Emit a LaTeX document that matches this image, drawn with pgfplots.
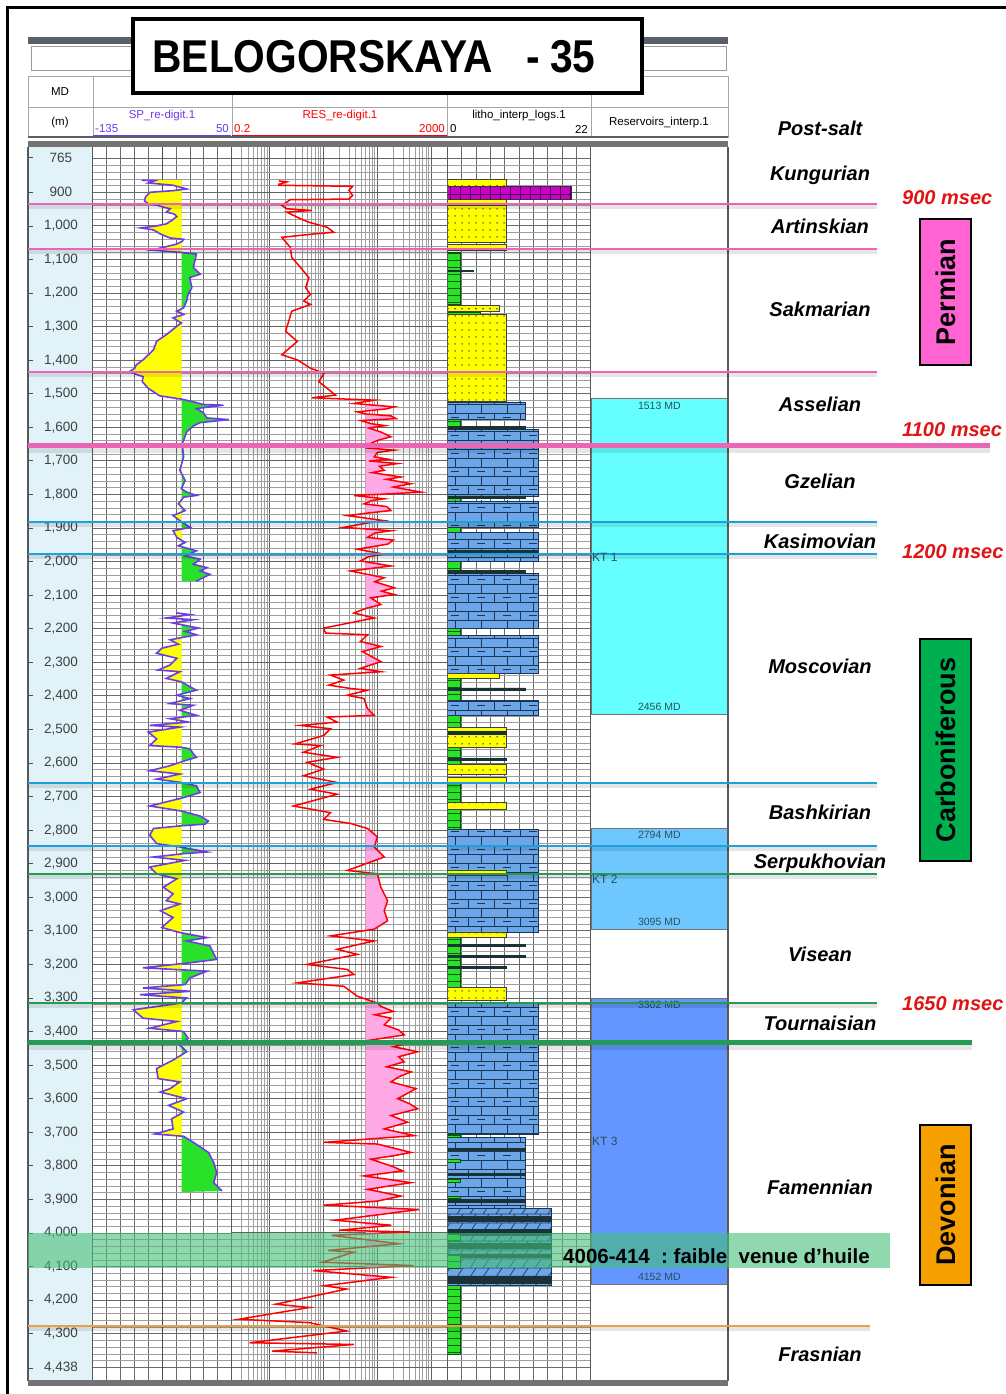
\documentclass[border=0pt]{standalone}
\usepackage{fontspec}
\setmainfont{Liberation Sans}
\usepackage{pgfplots}
\usepackage{pgfplotstable}
\pgfplotsset{compat=1.18}
\usetikzlibrary{patterns,patterns.meta}

\definecolor{sandy}{RGB}{255,255,0}
\definecolor{limeblue}{RGB}{108,166,232}
\definecolor{limeedge}{RGB}{25,55,85}
\definecolor{shalegreen}{RGB}{40,225,40}
\definecolor{saltmag}{RGB}{204,0,204}
\definecolor{darkbar}{RGB}{25,50,55}
\definecolor{cyanres}{RGB}{102,255,255}
\definecolor{skyres}{RGB}{110,200,255}
\definecolor{blueres}{RGB}{100,150,255}
\definecolor{pinkline}{RGB}{236,100,180}
\definecolor{blueline}{RGB}{30,160,220}
\definecolor{greenline}{RGB}{35,155,85}
\definecolor{orangeline}{RGB}{230,160,70}
\definecolor{permian}{RGB}{255,100,210}
\definecolor{carbon}{RGB}{0,176,80}
\definecolor{devon}{RGB}{245,160,0}
\definecolor{msecred}{RGB}{225,20,20}
\definecolor{oilgreen}{RGB}{70,190,120}
\definecolor{respink}{RGB}{255,170,230}
\definecolor{spviolet}{RGB}{110,60,230}
\definecolor{depthbg}{RGB}{225,243,248}
\definecolor{hdrdark}{RGB}{90,96,106}
\definecolor{reslbl}{RGB}{40,80,90}

\pgfdeclarepatternformonly{limebricks}{\pgfqpoint{-1pt}{-1pt}}{\pgfqpoint{27pt}{19pt}}{\pgfqpoint{26pt}{18pt}}{%
  \pgfsetlinewidth{0.7pt}%
  \pgfpathmoveto{\pgfqpoint{0pt}{0pt}}\pgfpathlineto{\pgfqpoint{26pt}{0pt}}%
  \pgfpathmoveto{\pgfqpoint{0pt}{9pt}}\pgfpathlineto{\pgfqpoint{26pt}{9pt}}%
  \pgfpathmoveto{\pgfqpoint{0pt}{0pt}}\pgfpathlineto{\pgfqpoint{0pt}{9pt}}%
  \pgfpathmoveto{\pgfqpoint{13pt}{9pt}}\pgfpathlineto{\pgfqpoint{13pt}{18pt}}%
  \pgfpathmoveto{\pgfqpoint{9pt}{4.5pt}}\pgfpathlineto{\pgfqpoint{17pt}{4.5pt}}%
  \pgfusepath{stroke}}
\pgfdeclarepatternformonly{dolobricks}{\pgfqpoint{-1pt}{-1pt}}{\pgfqpoint{27pt}{10pt}}{\pgfqpoint{26pt}{9pt}}{%
  \pgfsetlinewidth{0.7pt}%
  \pgfpathmoveto{\pgfqpoint{0pt}{0pt}}\pgfpathlineto{\pgfqpoint{26pt}{0pt}}%
  \pgfpathmoveto{\pgfqpoint{2pt}{0pt}}\pgfpathlineto{\pgfqpoint{8pt}{9pt}}%
  \pgfpathmoveto{\pgfqpoint{15pt}{0pt}}\pgfpathlineto{\pgfqpoint{21pt}{9pt}}%
  \pgfusepath{stroke}}

\pgfplotsset{
  trk/.style={scale only axis, anchor=north west, height=1233pt, ymin=765, ymax=4438, y dir=reverse,
    xticklabels={}, yticklabels={}, major tick length=0pt, minor tick length=0pt, axis line style={draw=none}},
  gridy/.style={ytick={800,900,...,4400}, minor y tick num=4, grid=both,
    major grid style={black!58, line width=0.9pt}, minor grid style={black!38, line width=0.65pt}},
  lsand/.style={fill=sandy, draw=black!75, line width=0.5pt, postaction={pattern={Dots[distance=6.5pt,radius=0.85pt]}, pattern color=black!75}},
  llime/.style={fill=limeblue, draw=limeedge, line width=0.6pt, postaction={pattern=limebricks, pattern color=limeedge}},
  ldolo/.style={fill=limeblue, draw=limeedge, line width=0.6pt, postaction={pattern=dolobricks, pattern color=limeedge}},
  lshale/.style={fill=shalegreen, draw=green!35!black, line width=0.5pt, postaction={pattern={Lines[angle=0,distance=7pt,line width=0.6pt]}, pattern color=green!35!black}},
  lsalt/.style={fill=saltmag, draw=black!80, line width=0.6pt, postaction={pattern={Hatch[angle=0,distance=10pt,line width=0.6pt]}, pattern color=black!70!magenta}},
  ldbar/.style={fill=darkbar, draw=darkbar, line width=0.4pt},
}
\newcommand{\lrect}[4]{\addplot[#1] coordinates {(0,#3) (#2,#3) (#2,#4) (0,#4) (0,#3)};}
\newcommand{\stratfont}{\bfseries\itshape\fontsize{20}{22}\selectfont}
\newcommand{\msecfont}{\bfseries\itshape\fontsize{20}{22}\selectfont}

% SP log, upper run (value, measured depth)
\pgfplotstableread{
v d
-70 864
-52 865
-61 872
-28 879
-10 890
-28 895
-59 900
-65 915
-66 926
-61 934
-50 938
-41 944
-32 949
-37 959
-27 964
-23 972
-30 984
-37 994
-50 1000
-71 1006
-54 1012
-45 1024
-32 1036
-14 1040
-16 1046
-23 1054
-41 1064
-57 1072
-17 1079
3 1084
1 1104
-1 1124
8 1144
-6 1154
-3 1184
-8 1204
-10 1224
-14 1244
-23 1254
-14 1264
-28 1274
-17 1289
-23 1299
-37 1324
-50 1344
-54 1369
-61 1384
-68 1399
-77 1414
-79 1424
-86 1434
-75 1444
-68 1449
-69 1464
-61 1484
-46 1506
-23 1514
-17 1516
-1 1524
12 1532
39 1534
3 1544
12 1556
17 1572
46 1577
8 1586
-1 1596
-10 1614
-14 1639
-16 1648
-14 1688
-19 1728
-12 1758
-17 1783
-10 1793
3 1803
-14 1808
-21 1828
-12 1848
-28 1863
-19 1878
-5 1898
-28 1908
-23 1928
-12 1943
-21 1953
3 1968
-12 1983
8 1993
-1 2008
17 2018
8 2028
21 2038
12 2048
3 2058
}\spA

% SP log, lower run
\pgfplotstableread{
v d
-23 2153
-5.5 2158
-37 2168
-1 2173
-28 2183
-5.5 2193
5.6 2198
-12 2208
3 2218
-32 2233
-21 2246
-43 2258
-50 2273
-23 2288
-32 2308
-48 2323
-19 2328
-37 2348
-17 2358
-5.5 2373
3 2383
-23 2398
-5.5 2408
-32 2423
-1 2428
-19 2443
3 2458
-32 2468
-8 2478
-59 2488
-19 2493
-61 2508
-50 2528
-59 2548
-17 2553
-5.5 2558
-1 2573
3 2583
-12 2593
-32 2608
-59 2623
-19 2633
-50 2648
-17 2658
3 2668
8 2688
-14 2703
-59 2728
-17 2743
8 2758
19 2773
14.5 2782
-17 2787
-54 2795
-59 2815
-50 2840
-19 2850
17 2865
-14 2870
-54 2880
-12 2890
-59 2910
-50 2930
-23 2945
-41 2970
-28 2990
-37 3010
-19 3020
-45 3040
-28 3060
-43 3090
-19 3105
17 3120
-10 3130
21 3145
30 3185
-5.5 3195
-68 3210
17 3220
-5.5 3240
-12 3260
-68 3270
-5.5 3280
-72 3290
-10 3300
-17 3315
-81 3335
-68 3360
-23 3370
-59 3390
-14 3400
-8 3420
-19 3440
-10 3460
-28 3485
-50 3510
-48 3540
-19 3550
-32 3570
-45 3580
-10 3600
-34 3620
-14 3640
-30 3660
-28 3690
-52 3705
-14 3712
-1 3730
19 3760
26 3790
30 3820
26 3850
37 3875
}\spB

% Resistivity log (ohm.m, measured depth)
\pgfplotstableread{
v d
1.5 866
2.1 869
1.5 876
1.5 879
35 882
30 894
35 909
30 920
2.45 922
1.7 939
2.1 949
6.2 954
2.1 959
3.8 979
5.4 989
11.8 1004
15.7 1019
6.7 1024
1.7 1034
2.45 1064
2.6 1094
3.8 1124
5.4 1154
4.7 1184
5.8 1204
4.35 1224
5.8 1234
2.6 1254
2.0 1314
3.3 1344
2.0 1374
1.7 1384
3.3 1399
5.8 1424
10.3 1439
8.3 1464
11.8 1484
16.9 1504
6.2 1512
88 1519
37 1529
207 1539
150 1545
43 1554
60 1560
180 1566
223 1574
50 1580
76 1589
140 1595
70 1602
117 1614
180 1628
101 1639
76 1648
150 1655
60 1661
207 1668
100 1675
88 1688
160 1695
70 1700
239 1708
110 1716
135 1728
80 1735
275 1748
150 1755
424 1768
200 1778
651 1793
180 1798
37 1803
135 1813
80 1818
57 1828
150 1836
180 1848
70 1855
28 1863
135 1878
60 1886
24 1898
180 1908
90 1915
66 1928
200 1936
156 1948
43 1963
135 1978
70 1985
49 1998
180 2013
80 2020
32 2028
135 2048
90 2060
207 2078
120 2088
207 2098
76 2108
117 2128
60 2140
37 2153
88 2168
10.2 2198
11 2213
66 2218
49 2238
117 2253
53 2268
117 2298
49 2318
117 2328
13.6 2338
24 2353
12.7 2368
32 2378
66 2383
28 2398
57 2408
66 2438
88 2458
11.8 2463
18 2478
3.8 2488
13.6 2498
10.2 2518
3.0 2543
8.9 2548
4.3 2568
18 2583
5 2598
10.2 2618
4.3 2638
18 2658
5.8 2678
18 2693
2.8 2728
13.6 2748
10.2 2768
32 2780
66 2795
101 2820
88 2850
135 2880
28 2920
101 2930
117 2970
156 3010
135 3040
156 3070
88 3095
13.6 3115
88 3130
18 3155
43 3170
5 3200
28 3215
37 3230
3.3 3255
24 3265
43 3295
101 3315
117 3325
200 3340
90 3350
180 3360
135 3380
250 3395
318 3410
49 3430
367 3435
200 3445
564 3460
250 3475
318 3490
150 3505
424 3520
250 3535
180 3550
525 3570
239 3600
400 3615
564 3630
180 3650
367 3670
135 3690
489 3710
10.2 3730
101 3735
424 3760
200 3770
76 3780
180 3800
300 3815
57 3830
424 3850
66 3870
275 3890
100 3905
10.4 3917
598 3930
16.8 3962
183 3977
19.7 3992
405 3997
14.3 4007
251 4032
12.2 4052
37 4057
9.6 4087
474 4097
6.5 4112
183 4132
10.4 4157
27 4167
1.32 4212
5.5 4222
0.27 4257
5.5 4267
27 4292
0.43 4327
37 4332
1.12 4352
7.6 4357
}\res

\begin{document}
\begin{tikzpicture}
\useasboundingbox (0pt,0pt) rectangle (1006pt,-1394pt);
\fill[white] (0pt,0pt) rectangle (1006pt,-1394pt);
% outer frame
\draw[line width=3pt] (7pt,-1394pt) -- (7pt,-8pt) -- (1006pt,-8pt);
% header
\fill[hdrdark] (28pt,-37pt) rectangle (728pt,-44pt);
\draw[black!40, fill=white] (31pt,-46pt) rectangle (726pt,-70pt);
\draw[black!35] (28pt,-76pt) rectangle (728pt,-137pt);
\draw[black!35] (28pt,-107pt) -- (728pt,-107pt);
\foreach \x in {92.7,231.7,447.3,590.7} \draw[black!35] (\x pt,-76pt) -- (\x pt,-137pt);
\draw[hdrdark, line width=2pt] (28pt,-137pt) -- (728pt,-137pt);
\fill[black!55] (28pt,-141pt) rectangle (728pt,-147pt);
\begin{scope}[font=\fontsize{11.5}{12}\selectfont]
\node at (60pt,-92pt) {MD};
\node at (60pt,-123pt) {(m)};
\node[text=spviolet] at (162pt,-116pt) {SP\_re-digit.1};
\node[text=spviolet, anchor=west, inner sep=1pt] at (94pt,-129pt) {-135};
\node[text=spviolet, anchor=east, inner sep=1pt] at (230pt,-129pt) {50};
\node[text=red] at (340pt,-116pt) {RES\_re-digit.1};
\node[text=red, anchor=west, inner sep=1pt] at (233pt,-129pt) {0.2};
\node[text=red, anchor=east, inner sep=1pt] at (446pt,-129pt) {2000};
\node at (519pt,-116pt) {litho\_interp\_logs.1};
\node[anchor=west, inner sep=1pt] at (449pt,-129pt) {0};
\node[anchor=east, inner sep=1pt] at (589pt,-129pt) {22};
\node at (659pt,-123pt) {Reservoirs\_interp.1};
\end{scope}
\draw[spviolet] (93pt,-135pt) -- (231pt,-135pt);
\draw[red] (232pt,-135pt) -- (447pt,-135pt);

% depth track
\begin{axis}[scale only axis, anchor=north west, at={(28pt,-147pt)}, width=64.7pt, height=1233pt,
  ymin=765, ymax=4438, y dir=reverse, xmin=0, xmax=1, xtick=\empty,
  ytick={797,900,1000,1100,1200,1300,1400,1500,1600,1700,1800,1900,2000,2100,2200,2300,2400,2500,2600,2700,2800,2900,3000,3100,3200,3300,3400,3500,3600,3700,3800,3900,4000,4100,4200,4300,4402},
  yticklabels={765,900,{1,000},{1,100},{1,200},{1,300},{1,400},{1,500},{1,600},{1,700},{1,800},{1,900},{2,000},{2,100},{2,200},{2,300},{2,400},{2,500},{2,600},{2,700},{2,800},{2,900},{3,000},{3,100},{3,200},{3,300},{3,400},{3,500},{3,600},{3,700},{3,800},{3,900},{4,000},{4,100},{4,200},{4,300},{4,438}},
  ytick pos=left, tick align=inside, major tick length=5pt, tick style={black!70, line width=0.8pt},
  axis line style={draw=none},
  yticklabel style={anchor=center, xshift=33pt, font=\fontsize{13.5}{14}\selectfont, text=black!75},
  axis background/.style={fill=depthbg}]
\end{axis}

% SP track grid
\begin{axis}[trk, gridy, at={(92.7pt,-147pt)}, width=139pt, xmin=-135, xmax=50,
  xtick={-116.5,-98,-79.5,-61,-24,-5.5,13,31.5},
  extra x ticks={-42.5}, extra x tick labels={}, extra x tick style={grid=major, major grid style={black!70, line width=1pt}}]
\end{axis}
% SP fill, left of base line
\begin{axis}[trk, at={(92.7pt,-147pt)}, width=89pt, xmin=-135, xmax=-16.5, hide axis]
\addplot[fill=sandy, draw=none] table[x=v,y=d] {\spA} -- (axis cs:-16.5,2058) -- (axis cs:-16.5,864) -- cycle;
\addplot[fill=sandy, draw=none] table[x=v,y=d] {\spB} -- (axis cs:-16.5,3878) -- (axis cs:-16.5,2153) -- cycle;
\end{axis}
% SP fill, right of base line
\begin{axis}[trk, at={(181.7pt,-147pt)}, width=50pt, xmin=-16.5, xmax=50, hide axis]
\addplot[fill=shalegreen, draw=none] table[x=v,y=d] {\spA} -- (axis cs:-16.5,2058) -- (axis cs:-16.5,864) -- cycle;
\addplot[fill=shalegreen, draw=none] table[x=v,y=d] {\spB} -- (axis cs:-16.5,3878) -- (axis cs:-16.5,2153) -- cycle;
\end{axis}
% SP curve
\begin{axis}[trk, at={(92.7pt,-147pt)}, width=139pt, xmin=-135, xmax=50, hide axis]
\addplot[spviolet, line width=1.6pt] table[x=v,y=d] {\spA};
\addplot[spviolet, line width=1.6pt] table[x=v,y=d] {\spB};
\end{axis}

% RES grid
\begin{axis}[trk, gridy, at={(231.7pt,-147pt)}, width=215.6pt, xmode=log, xmin=0.2, xmax=2000,
  xtick={1,10,100,1000},
  minor xtick={0.3,0.4,0.5,0.6,0.7,0.8,0.9,2,3,4,5,6,7,8,9,20,30,40,50,60,70,80,90,200,300,400,500,600,700,800,900},
  major grid style={black!62, line width=1pt}]
\end{axis}
% RES fill above 61 ohm.m
\begin{axis}[trk, at={(365.6pt,-147pt)}, width=81.7pt, xmode=log, xmin=61, xmax=2000, hide axis]
\addplot[fill=respink, draw=none] table[x=v,y=d] {\res} -- (axis cs:61,4357) -- (axis cs:61,866) -- cycle;
\end{axis}
% RES curve
\begin{axis}[trk, at={(231.7pt,-147pt)}, width=215.6pt, xmode=log, xmin=0.2, xmax=2000, hide axis]
\addplot[red, line width=1.5pt] table[x=v,y=d] {\res};
\end{axis}

% Lithology track
\begin{axis}[trk, gridy, at={(447.3pt,-147pt)}, width=143.4pt, xmin=0, xmax=22,
  xtick={2.2,4.4,6.6,8.8,11,13.2,15.4,17.6,19.8}]
\lrect{lshale}{2}{1079}{1234}
\lrect{lshale}{5}{1256}{1262}
\lrect{lshale}{2}{1576}{1600}
\lrect{lshale}{2}{1804}{1819}
\lrect{lshale}{2}{1899}{1914}
\lrect{lshale}{2}{1999}{2034}
\lrect{lshale}{2}{2199}{2219}
\lrect{lshale}{2}{2348}{2413}
\lrect{lshale}{2}{2458}{2493}
\lrect{lshale}{2}{2553}{2603}
\lrect{lshale}{2}{2658}{2718}
\lrect{lshale}{2}{2738}{2798}
\lrect{lshale}{2}{3118}{3268}
\lrect{lshale}{2}{4156}{4361}
\lrect{llime}{12}{1524}{1576}
\lrect{llime}{14}{1606}{1804}
\lrect{llime}{14}{1819}{1899}
\lrect{llime}{14}{1914}{1999}
\lrect{llime}{14}{2034}{2199}
\lrect{llime}{14}{2219}{2334}
\lrect{llime}{14}{2413}{2458}
\lrect{llime}{14}{2798}{3103}
\lrect{llime}{14}{3313}{3706}
\lrect{llime}{12}{3716}{3926}
\lrect{lshale}{2}{3706}{3716}
\lrect{lshale}{2}{3780}{3790}
\lrect{lshale}{2}{3840}{3850}
\lrect{lshale}{2}{3890}{3900}
\lrect{lsand}{9}{862}{882}
\lrect{lsand}{9}{922}{937}
\lrect{lsand}{9}{939}{1049}
\lrect{lsand}{9}{1054}{1072}
\lrect{lsand}{8}{1236}{1254}
\lrect{lsand}{9}{1264}{1522}
\lrect{lsand}{8}{2334}{2348}
\lrect{lsand}{9}{2493}{2508}
\lrect{lsand}{9}{2513}{2553}
\lrect{lsand}{9}{2603}{2633}
\lrect{lsand}{9}{2643}{2658}
\lrect{lsand}{9}{2718}{2738}
\lrect{lsand}{9}{2918}{2933}
\lrect{lsand}{9}{3103}{3118}
\lrect{lsand}{9}{3268}{3308}
\lrect{lsalt}{19}{882}{922}
\lrect{ldolo}{16}{3926}{4156}
\lrect{ldbar}{4}{1132}{1136}
\lrect{ldbar}{12}{1598}{1606}
\lrect{ldbar}{12}{1804}{1811}
\lrect{ldbar}{14}{1966}{1974}
\lrect{ldbar}{12}{2026}{2034}
\lrect{ldbar}{12}{2376}{2382}
\lrect{ldbar}{9}{2506}{2513}
\lrect{ldbar}{9}{2586}{2593}
\lrect{ldbar}{12}{3140}{3146}
\lrect{ldbar}{12}{3172}{3178}
\lrect{ldbar}{9}{3206}{3212}
\lrect{ldbar}{12}{3748}{3754}
\lrect{ldbar}{12}{3822}{3828}
\lrect{ldbar}{12}{3900}{3908}
\lrect{ldbar}{16}{3950}{3966}
\lrect{ldbar}{16}{3990}{4006}
\lrect{ldbar}{16}{4030}{4044}
\lrect{ldbar}{16}{4062}{4072}
\lrect{ldbar}{16}{4128}{4150}
\lrect{lshale}{2}{4005}{4025}
\lrect{lshale}{2}{4065}{4105}
\end{axis}

% Reservoir track
\begin{axis}[trk, at={(590.7pt,-147pt)}, width=137.3pt, xmin=0, xmax=1, hide axis]
\addplot[fill=cyanres, draw=black!55] coordinates {(0,1513) (1,1513) (1,2456) (0,2456) (0,1513)};
\addplot[fill=skyres, draw=black!55] coordinates {(0,2794) (1,2794) (1,3095) (0,3095) (0,2794)};
\addplot[fill=blueres, draw=black!55] coordinates {(0,3302) (1,3302) (1,4152) (0,4152) (0,3302)};
\begin{scope}[font=\fontsize{10.5}{11}\selectfont, text=reslbl]
\node at (axis cs:0.5,1537) {1513 MD};
\node at (axis cs:0.5,2433) {2456 MD};
\node at (axis cs:0.5,2815) {2794 MD};
\node at (axis cs:0.5,3074) {3095 MD};
\node at (axis cs:0.5,3321) {3302 MD};
\node at (axis cs:0.5,4131) {4152 MD};
\end{scope}
\end{axis}

% track borders
\foreach \x in {28,92.7,231.7,447.3,590.7,728}
  \draw[black!65, line width=1.2pt] (\x pt,-147pt) -- (\x pt,-1381pt);
\fill[black!55] (28pt,-1380pt) rectangle (728pt,-1386pt);

% overlay: horizons, oil band, labels
\begin{axis}[scale only axis, anchor=north west, at={(0pt,-147pt)}, width=1006pt, height=1233pt,
  xmin=0, xmax=1006, ymin=765, ymax=4438, y dir=reverse, hide axis, clip=false]
\addplot[draw=black, draw opacity=0.10, line width=4pt, yshift=-3pt] coordinates {(28,934) (877,934)};
\addplot[draw=black, draw opacity=0.10, line width=4pt, yshift=-3pt] coordinates {(28,1068) (877,1068)};
\addplot[draw=black, draw opacity=0.10, line width=4pt, yshift=-3pt] coordinates {(28,1436) (877,1436)};
\addplot[draw=black, draw opacity=0.10, line width=7pt, yshift=-4pt] coordinates {(28,1653) (990,1653)};
\addplot[draw=black, draw opacity=0.10, line width=4pt, yshift=-3pt] coordinates {(28,1881) (877,1881)};
\addplot[draw=black, draw opacity=0.10, line width=4pt, yshift=-3pt] coordinates {(28,1976) (877,1976)};
\addplot[draw=black, draw opacity=0.10, line width=4pt, yshift=-3pt] coordinates {(28,2659) (877,2659)};
\addplot[draw=black, draw opacity=0.10, line width=4pt, yshift=-3pt] coordinates {(28,2846) (877,2846)};
\addplot[draw=black, draw opacity=0.10, line width=4pt, yshift=-3pt] coordinates {(28,2932) (877,2932)};
\addplot[draw=black, draw opacity=0.10, line width=4pt, yshift=-3pt] coordinates {(28,3315) (877,3315)};
\addplot[draw=black, draw opacity=0.10, line width=7pt, yshift=-4pt] coordinates {(28,3434) (972,3434)};
\addplot[draw=black, draw opacity=0.10, line width=4pt, yshift=-3pt] coordinates {(28,4277) (870,4277)};
\addplot[pinkline, line width=2pt] coordinates {(28,934) (877,934)};
\addplot[pinkline, line width=2pt] coordinates {(28,1068) (877,1068)};
\addplot[pinkline, line width=2pt] coordinates {(28,1436) (877,1436)};
\addplot[pinkline, line width=5pt] coordinates {(28,1653) (990,1653)};
\addplot[blueline, line width=2pt] coordinates {(28,1881) (877,1881)};
\addplot[blueline, line width=2pt] coordinates {(28,1976) (877,1976)};
\addplot[blueline, line width=2pt] coordinates {(28,2659) (877,2659)};
\addplot[blueline, line width=2pt] coordinates {(28,2846) (877,2846)};
\addplot[greenline, line width=2pt] coordinates {(28,2932) (877,2932)};
\addplot[greenline, line width=2pt] coordinates {(28,3315) (877,3315)};
\addplot[greenline, line width=5pt] coordinates {(28,3434) (972,3434)};
\addplot[orangeline, line width=2pt] coordinates {(28,4277) (870,4277)};
\addplot[draw=none, fill=oilgreen, fill opacity=0.6] coordinates {(28,4000) (890,4000) (890,4105) (28,4105)};
\begin{scope}[font=\stratfont]
\node at (axis cs:820,708) {Post-salt};
\node at (axis cs:820,848) {Kungurian};
\node at (axis cs:820,1000) {Artinskian};
\node at (axis cs:820,1250) {Sakmarian};
\node at (axis cs:820,1531) {Asselian};
\node at (axis cs:820,1760) {Gzelian};
\node at (axis cs:820,1939) {Kasimovian};
\node at (axis cs:820,2311) {Moscovian};
\node at (axis cs:820,2746) {Bashkirian};
\node at (axis cs:820,2898) {Serpukhovian};
\node at (axis cs:820,3169) {Visean};
\node at (axis cs:820,3375) {Tournaisian};
\node at (axis cs:820,3863) {Famennian};
\node at (axis cs:820,4361) {Frasnian};
\end{scope}
\begin{scope}[font=\msecfont, text=msecred]
\node[anchor=west, inner sep=0pt] at (axis cs:902,917) {900 msec};
\node[anchor=west, inner sep=0pt] at (axis cs:902,1608) {1100 msec};
\node[anchor=west, inner sep=0pt] at (axis cs:902,1971) {1200 msec};
\node[anchor=west, inner sep=0pt] at (axis cs:902,3318) {1650 msec};
\end{scope}
\begin{scope}[font=\fontsize{12}{12}\selectfont, text=reslbl]
\node[anchor=west, inner sep=0pt] at (axis cs:592,1986) {KT 1};
\node[anchor=west, inner sep=0pt] at (axis cs:592,2945) {KT 2};
\node[anchor=west, inner sep=0pt] at (axis cs:592,3726) {KT 3};
\end{scope}
\end{axis}

% oil show annotation
\node[anchor=west, inner sep=0pt, font=\bfseries\fontsize{20.5}{22}\selectfont] at (563pt,-1256pt) {4006-414\ \ :\ faible\ \ venue\ d’huile};

% period boxes
\draw[fill=permian, line width=2pt] (920pt,-219pt) rectangle (971pt,-365pt);
\node[rotate=90, font=\bfseries\fontsize{27}{28}\selectfont] at (945.5pt,-292pt) {Permian};
\draw[fill=carbon, line width=2pt] (920pt,-639pt) rectangle (971pt,-861pt);
\node[rotate=90, font=\bfseries\fontsize{27}{28}\selectfont] at (945.5pt,-750pt) {Carboniferous};
\draw[fill=devon, line width=2pt] (920pt,-1125pt) rectangle (971pt,-1285pt);
\node[rotate=90, font=\bfseries\fontsize{27}{28}\selectfont] at (945.5pt,-1205pt) {Devonian};

% title box
\draw[line width=4pt, fill=white] (133pt,-19pt) rectangle (642pt,-93pt);
\node[font=\bfseries\fontsize{46}{47}\selectfont] at (374pt,-57pt) {\scalebox{0.885}[1]{BELOGORSKAYA\hspace{38pt}-\hspace{11pt}35}};
\end{tikzpicture}
\end{document}
